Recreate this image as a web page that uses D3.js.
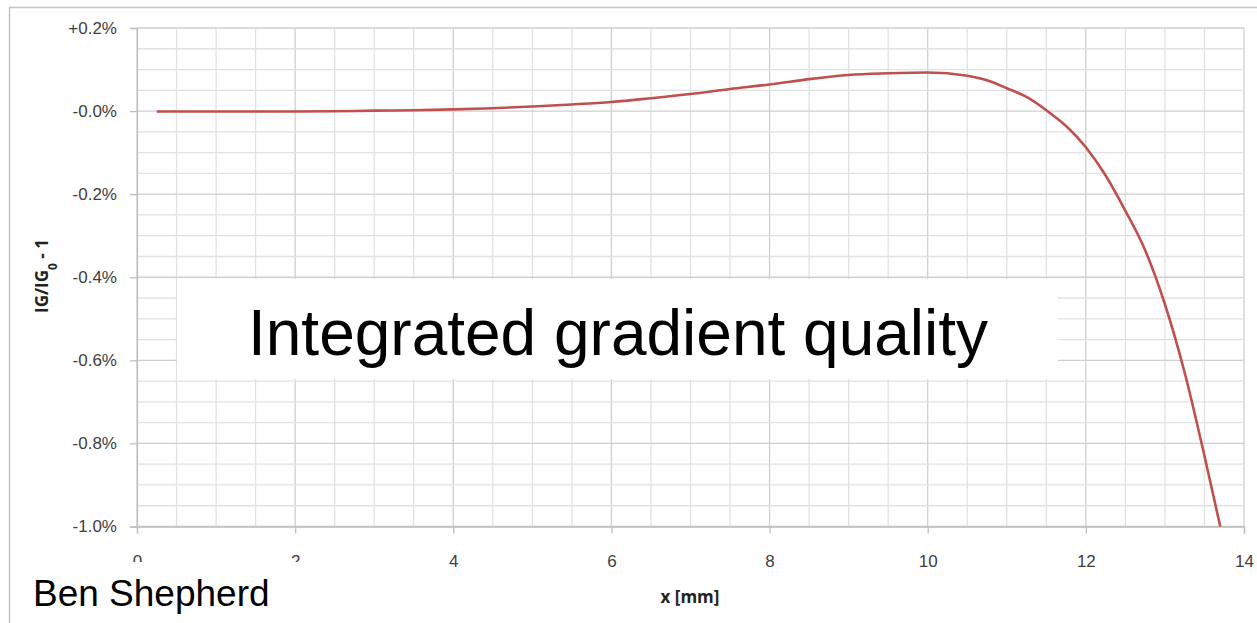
<!DOCTYPE html>
<html>
<head>
<meta charset="utf-8">
<script src="https://cdn.jsdelivr.net/npm/d3@7"></script>
<style>
  html, body { margin: 0; padding: 0; background: #fff; }
  svg { display: block; }
</style>
</head>
<body>
<svg id="chart" width="1257" height="623"></svg>
<script>
// Position across the gradient region, in mm
const positionMm = [0.25, 0.5, 1.0, 1.5, 2.0, 2.5, 3.0, 3.5, 4.0, 4.5, 5.0, 5.5, 6.0, 6.5, 7.0,
  7.5, 8.0, 8.5, 9.0, 9.5, 10.0, 10.5, 10.75, 11.0, 11.25, 11.5, 11.75, 12.0, 12.25, 12.5,
  12.75, 13.0, 13.25, 13.5, 13.7];
// Relative integrated gradient deviation IG/IG0 - 1, in percent
const deviationPct = [-0.001, -0.001, -0.001, -0.001, -0.001, -0.0005, 0.001, 0.002, 0.004, 0.007,
  0.011, 0.016, 0.022, 0.031, 0.041, 0.053, 0.064, 0.077, 0.087, 0.091, 0.093, 0.085, 0.074,
  0.055, 0.034, 0.002, -0.036, -0.087, -0.155, -0.24, -0.335, -0.465, -0.63, -0.83, -1.0];

const xTicks = [0, 2, 4, 6, 8, 10, 12, 14];
const yTicks = [0.2, 0.0, -0.2, -0.4, -0.6, -0.8, -1.0];
const yTickLabels = ["+0.2%", "-0.0%", "-0.2%", "-0.4%", "-0.6%", "-0.8%", "-1.0%"];

const titleText = "Integrated gradient quality";
const authorText = "Ben Shepherd";

const svg = d3.select("#chart");

const x = d3.scaleLinear().domain([0, 14]).range([137, 1244]);
const y = d3.scaleLinear().domain([-1.0, 0.2]).range([526.5, 28]);

// outer frame (left and top edges)
svg.append("path")
  .attr("d", "M9.5,623 V7.5 H1257")
  .attr("fill", "none")
  .attr("stroke", "#c4c4c4")
  .attr("stroke-width", 1.5);

// grid
const grid = svg.append("g");
const minorX = d3.range(0, 14.0001, 0.5);
const minorY = d3.range(-1.0, 0.2001, 0.05);
grid.selectAll("line.vx").data(minorX).join("line")
  .attr("x1", d => x(d)).attr("x2", d => x(d))
  .attr("y1", y(0.2)).attr("y2", y(-1.0))
  .attr("stroke", d => Math.abs(d / 2 - Math.round(d / 2)) < 1e-6 ? "#cfcfcf" : "#e2e2e2")
  .attr("stroke-width", 1.3);
grid.selectAll("line.hy").data(minorY).join("line")
  .attr("y1", d => y(d)).attr("y2", d => y(d))
  .attr("x1", x(0)).attr("x2", x(14))
  .attr("stroke", d => Math.abs(d / 0.2 - Math.round(d / 0.2)) < 1e-6 ? "#cfcfcf" : "#e2e2e2")
  .attr("stroke-width", 1.3);

// axes
const axisColor = "#bfbfbf";
const yAxis = svg.append("g")
  .attr("transform", `translate(${x(0)},0)`)
  .call(d3.axisLeft(y).tickValues(yTicks).tickSize(7).tickPadding(13)
    .tickFormat((d, i) => yTickLabels[i]));
const xAxis = svg.append("g")
  .attr("transform", `translate(0,${y(-1.0)})`)
  .call(d3.axisBottom(x).tickValues(xTicks).tickSize(7).tickPadding(21));
[yAxis, xAxis].forEach(a => {
  a.select(".domain").attr("stroke", axisColor).attr("stroke-width", 1.3);
  a.selectAll(".tick line").attr("stroke", axisColor).attr("stroke-width", 1.3);
  a.selectAll(".tick text")
    .attr("fill", "#404040")
    .style("font-family", "'Liberation Sans', Arial, sans-serif")
    .style("font-size", "17px");
});

// data line
const line = d3.line()
  .x((d, i) => x(positionMm[i]))
  .y(d => y(d))
  .curve(d3.curveMonotoneX);
svg.append("path")
  .datum(deviationPct)
  .attr("d", line)
  .attr("fill", "none")
  .attr("stroke", "#c0504d")
  .attr("stroke-width", 2.6)
  .attr("stroke-linejoin", "round");

// axis titles
const yTitle = svg.append("text")
  .attr("transform", "translate(48,276) rotate(-90)")
  .attr("text-anchor", "middle")
  .style("font-family", "'Open Sans', 'Liberation Sans', sans-serif")
  .style("font-weight", "bold")
  .style("font-size", "17px")
  .attr("fill", "#222");
yTitle.append("tspan").text("IG/IG");
yTitle.append("tspan").attr("baseline-shift", "sub").style("font-size", "12px").text("0");
yTitle.append("tspan").text(" - 1");

svg.append("text")
  .attr("x", 690).attr("y", 603)
  .attr("text-anchor", "middle")
  .style("font-family", "'Open Sans', 'Liberation Sans', sans-serif")
  .style("font-weight", "bold")
  .style("font-size", "17px")
  .attr("fill", "#222")
  .text("x [mm]");

// title panel
svg.append("rect")
  .attr("x", 177).attr("y", 279).attr("width", 881).attr("height", 100)
  .attr("fill", "#fff");
svg.append("text")
  .attr("x", 618).attr("y", 355)
  .attr("text-anchor", "middle")
  .style("font-family", "'Liberation Sans', Arial, sans-serif")
  .style("font-size", "64px")
  .attr("fill", "#000")
  .text(titleText);

// author panel
svg.append("rect")
  .attr("x", 11).attr("y", 562).attr("width", 295).attr("height", 61)
  .attr("fill", "#fff");
svg.append("text")
  .attr("x", 33).attr("y", 606)
  .style("font-family", "'Liberation Sans', Arial, sans-serif")
  .style("font-size", "37px")
  .attr("fill", "#000")
  .text(authorText);
</script>
</body>
</html>
